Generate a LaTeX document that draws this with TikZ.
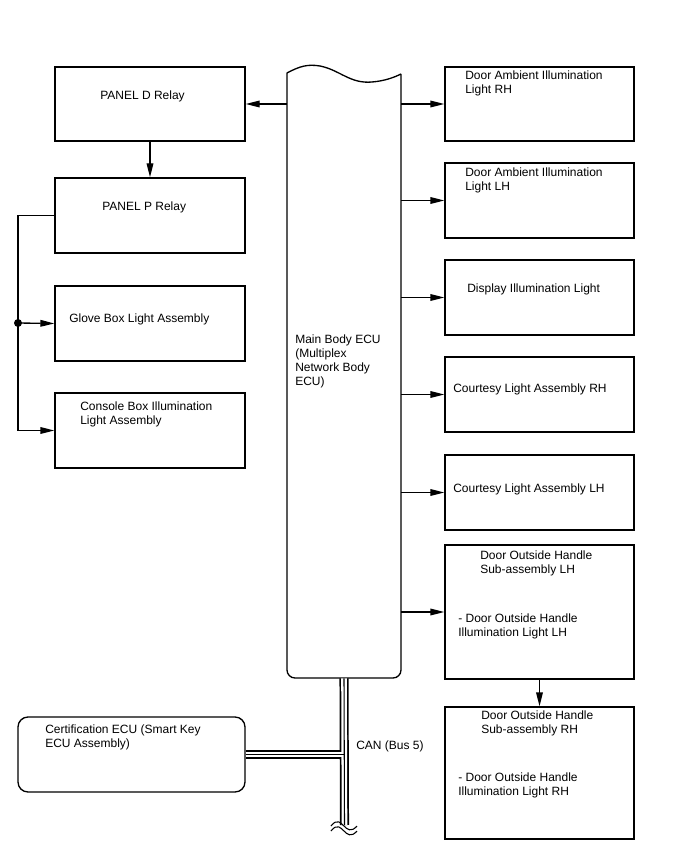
\documentclass[tikz,border=0pt]{standalone}
\usepackage{fontspec}
\setmainfont{Liberation Sans}
\usetikzlibrary{arrows.meta,positioning,calc,fit}

\begin{document}
\begin{tikzpicture}[x=0.75pt, y=-0.75pt, >={Triangle[length=10.5pt,width=5pt]},
    box/.style={draw, line width=1pt, inner sep=0pt},
    txt/.style={anchor=west, align=left, inner sep=0pt, font=\fontsize{9}{10.5}\selectfont},
    wire/.style={line width=1pt},
    arr/.style={wire, ->}]
  \useasboundingbox (0,0) rectangle (688,852);

  % left side
  \node[box, fit={(55,67) (245,141)}] (pd) {};
  \node[box, fit={(55,178) (245,253)}] (pp) {};
  \node[box, fit={(55,286) (245,361)}] (gb) {};
  \node[box, fit={(55,393) (245,468)}] (cb) {};
  \node[box, rounded corners=7.5pt, fit={(18,717) (245,792)}] (cert) {};
  \node[txt] (pdt) at (100,96) {PANEL D Relay};
  \node[txt] (ppt) at (102,207) {PANEL P Relay};
  \node[txt] (gbt) at (69,319) {Glove Box Light Assembly};
  \node[txt] (cbt) at (80,414) {Console Box Illumination\\Light Assembly};
  \node[txt] (certt) at (45,737) {Certification ECU (Smart Key\\ECU Assembly)};

  % main body ECU
  \node[inner sep=0pt, fit={(287,74) (401,678)}] (ecu) {};
  \draw[line width=1pt] (401,74) [rounded corners=6pt] -- (401,678) -- (287,678) [sharp corners] -- (287,73)
    .. controls (300,66) and (308,64) .. (320,66)
    .. controls (340,70) and (350,84) .. (372,82)
    .. controls (385,81) and (395,77) .. (401,74);
  \node[txt] (ecut) at (295,361) {Main Body ECU\\(Multiplex\\Network Body\\ECU)};

  % right side
  \node[box, fit={(445,67) (634,141)}] (darh) {};
  \node[box, fit={(445,163) (634,238)}] (dalh) {};
  \node[box, fit={(445,260) (634,335)}] (disp) {};
  \node[box, fit={(445,357) (634,432)}] (clrh) {};
  \node[box, fit={(445,455) (634,530)}] (cllh) {};
  \node[box, fit={(445,545) (634,679)}] (dolh) {};
  \node[box, fit={(445,707) (634,839)}] (dorh) {};
  \node[txt] (darht) at (465,83) {Door Ambient Illumination\\Light RH};
  \node[txt] (dalht) at (465,180) {Door Ambient Illumination\\Light LH};
  \node[txt] (dispt) at (467,289) {Display Illumination Light};
  \node[txt] (clrht) at (453,389) {Courtesy Light Assembly RH};
  \node[txt] (cllht) at (453,489) {Courtesy Light Assembly LH};
  \node[txt] (dolht) at (480,563) {Door Outside Handle\\Sub-assembly LH};
  \node[txt] (dolhs) at (458,626) {- Door Outside Handle\\Illumination Light LH};
  \node[txt] (dorht) at (481,723) {Door Outside Handle\\Sub-assembly RH};
  \node[txt] (dorhs) at (458,785) {- Door Outside Handle\\Illumination Light RH};

  % connectors
  \draw[arr] (ecu.west |- pd.east) -- (pd.east);
  \draw[arr] (pd.south) -- (pp.north);
  \coordinate (split) at (18,323);
  \draw[wire] (pp.west) -| (split);
  \draw[arr] (split) |- (cb.west);
  \draw[arr] (split) -- (gb.west);
  \fill (split) circle (4);
  \foreach \b in {darh,dalh,disp,clrh,cllh,dolh}
    \draw[arr] (ecu.east |- \b.west) -- (\b.west);
  \draw[arr] (dolh.south) -- (dorh.north);

  % CAN bus
  \coordinate (canend) at (344.5,825);
  \coordinate (canjn) at (ecu.south |- cert.east);
  \draw[line width=6.8pt] (ecu.south) -- (canend);
  \draw[line width=6.8pt] (cert.east) -- ([xshift=3.4pt]canjn);
  \draw[white, line width=4.2pt] (ecu.south) -- (canend);
  \draw[white, line width=4.2pt] (cert.east) -- (canjn);
  \draw[line width=0.8pt] (ecu.south) -- (canend);
  \draw[line width=0.8pt] (cert.east) -- (canjn);
  \foreach \dy in {0,5}
    \draw[line width=0.8pt] (331,826+\dy) .. controls (337,818+\dy) and (341,823+\dy) .. (344,826+\dy)
      .. controls (347,829+\dy) and (351,833+\dy) .. (357,826+\dy);
  \node[txt] (can) at (356,746) {CAN (Bus 5)};
\end{tikzpicture}
\end{document}
